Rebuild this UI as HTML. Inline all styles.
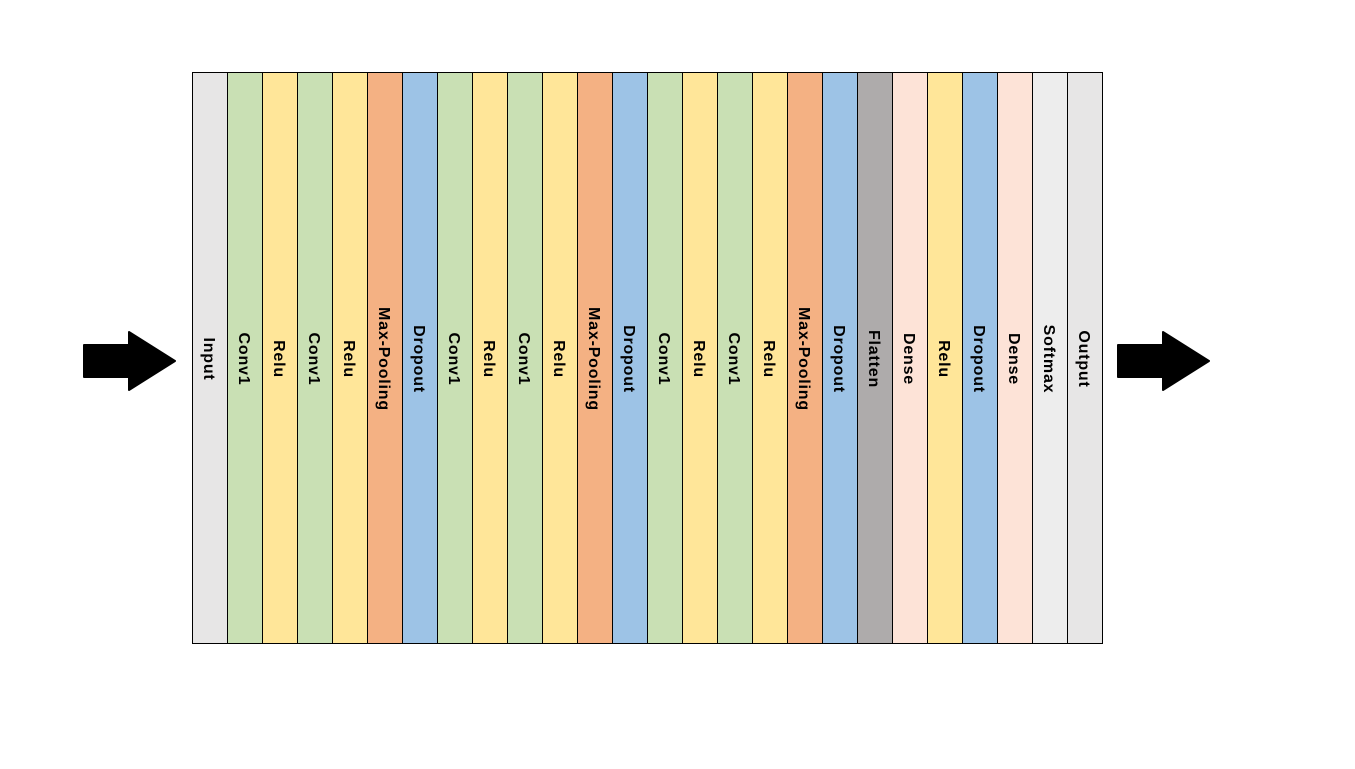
<!DOCTYPE html>
<html><head><style>
body{margin:0;width:1355px;height:769px;background:#fff;position:relative;overflow:hidden;font-family:"Liberation Sans",sans-serif}
.c{position:absolute;top:72px;height:570px;width:34px;border:1px solid #000;border-right:none}
.c span{position:absolute;left:calc(50% - 2px);top:286px;transform:translate(-50%,-50%) rotate(90deg);white-space:nowrap;font-weight:bold;font-size:16px;letter-spacing:0.8px;color:#000}
</style></head><body>
<svg width="1355" height="769" style="position:absolute;left:0;top:0">
<polygon points="84,345 129,345 129,332 175,361 129,390 129,377 84,377" fill="#000" stroke="#000" stroke-linejoin="round" stroke-width="2"/>
<polygon points="1118,345 1163,345 1163,332 1209,361 1163,390 1163,377 1118,377" fill="#000" stroke="#000" stroke-linejoin="round" stroke-width="2"/>
</svg>
<div id="w"></div>
<script>
var L=[["Input","#e7e6e6"],["Conv1","#c9e0b4"],["Relu","#ffe699"],["Conv1","#c9e0b4"],["Relu","#ffe699"],["Max-Pooling","#f4b183"],["Dropout","#9dc3e6"],["Conv1","#c9e0b4"],["Relu","#ffe699"],["Conv1","#c9e0b4"],["Relu","#ffe699"],["Max-Pooling","#f4b183"],["Dropout","#9dc3e6"],["Conv1","#c9e0b4"],["Relu","#ffe699"],["Conv1","#c9e0b4"],["Relu","#ffe699"],["Max-Pooling","#f4b183"],["Dropout","#9dc3e6"],["Flatten","#aeabab"],["Dense","#fde3d7"],["Relu","#ffe699"],["Dropout","#9dc3e6"],["Dense","#fde3d7"],["Softmax","#ededed"],["Output","#e7e6e6"]];
var h="";L.forEach(function(l,i){h+='<div class="c" style="left:'+(192+i*35)+'px;background:'+l[1]+(i==25?';border-right:1px solid #000':'')+'"><span>'+l[0]+'</span></div>';});
document.getElementById("w").innerHTML=h;
</script>
</body></html>
